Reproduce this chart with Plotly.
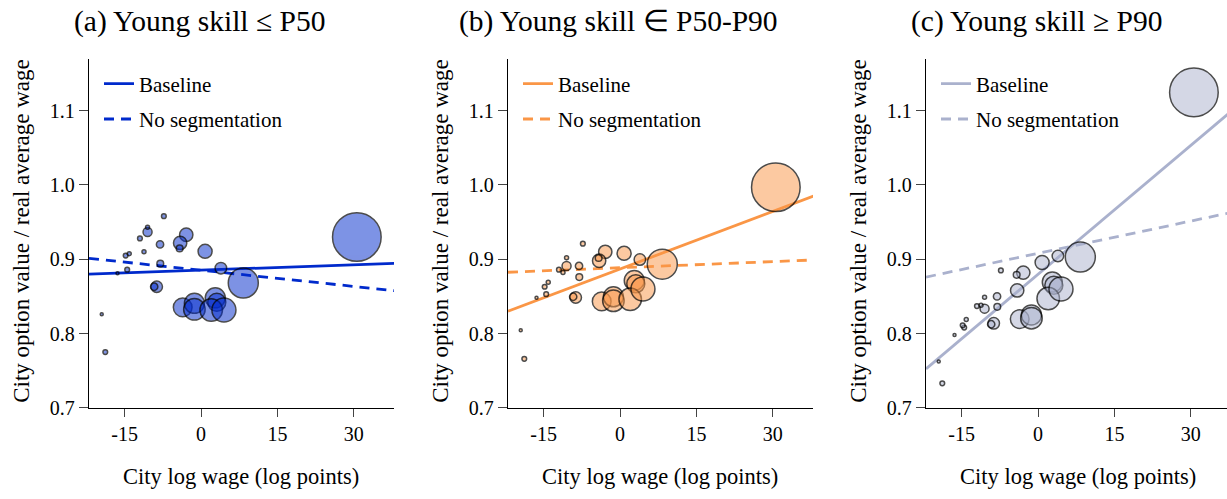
import plotly.graph_objects as go

# ---------------- data ----------------
panel_titles = ["(a) Young skill \u2264 P50", "(b) Young skill \u2208 P50-P90", "(c) Young skill \u2265 P90"]
x_ticks = [-15, 0, 15, 30]
x_tick_text = ["-15", "0", "15", "30"]
y_ticks = [0.7, 0.8, 0.9, 1.0, 1.1]

# city log wage (log points) and marker diameter (city size)
city_x = [-19.5, -18.8, -16.4, -14.5, -14.8, -14.1, -12.0, -10.5, -10.5, -11.2,
          -7.3, -8.05, -8.0, -8.7, -9.2, -2.9, -4.1, -4.2, 0.8, 3.9,
          8.3, -3.6, -1.3, -1.3, 2.8, 3.1, 2.0, 4.5, 30.6]
city_size = [3, 4.7, 3, 4.7, 4.7, 4, 4.7, 9, 4, 4,
             4.7, 7.3, 6.7, 11.5, 7.3, 13.3, 13.3, 6.7, 14, 11.5,
             30, 18.7, 20, 21.5, 20, 18, 22.5, 24, 48.6]

# city option value / real average wage, per panel
y_low = [0.826, 0.775, 0.881, 0.886, 0.905, 0.9075, 0.928, 0.9366, 0.943, 0.910,
         0.958, 0.920, 0.894, 0.863, 0.863, 0.933, 0.922, 0.9145, 0.9106, 0.888,
         0.868, 0.8353, 0.8406, 0.8326, 0.848, 0.842, 0.8317, 0.8317, 0.930]
y_mid = [0.8045, 0.766, 0.848, 0.853, 0.863, 0.869, 0.886, 0.891, 0.902, 0.882,
         0.921, 0.891, 0.876, 0.8485, 0.8495, 0.910, 0.898, 0.9017, 0.908, 0.8996,
         0.8934, 0.8432, 0.8494, 0.8441, 0.8714, 0.867, 0.846, 0.860, 0.997]
y_high = [0.7622, 0.733, 0.798, 0.808, 0.811, 0.819, 0.837, 0.8335, 0.849, 0.838,
          0.885, 0.850, 0.836, 0.8137, 0.8125, 0.882, 0.858, 0.879, 0.8956, 0.9044,
          0.903, 0.8194, 0.8251, 0.8207, 0.8692, 0.865, 0.847, 0.860, 1.1246]

# fitted lines (end points)
line_x = [-22, 38]
baseline_low = [0.880, 0.8945]
baseline_mid = [0.830, 0.985]
baseline_high = [0.7525, 1.0995]
noseg_low = [0.9012, 0.8576]
noseg_mid = [0.8825, 0.899]
noseg_high = [0.876, 0.963]

panel_y = [y_low, y_mid, y_high]
panel_base = [baseline_low, baseline_mid, baseline_high]
panel_noseg = [noseg_low, noseg_mid, noseg_high]
colors = [(0, 42, 204), (250, 150, 70), (170, 177, 205)]

# ---------------- layout geometry (pixels) ----------------
W, H = 1227, 499
ax_left = [89, 508, 926]
ax_right = [394, 813, 1227]
ax_top, ax_bottom = 60, 417
x_ranges = [[-22, 37.9], [-22, 37.9], [-22, 37.1]]
FONT = "Liberation Serif"

fig = go.Figure()
for i in range(3):
    r, g, b = colors[i]
    lc = f"rgb({r},{g},{b})"
    fc = f"rgba({r},{g},{b},0.72)"
    xa = "x" if i == 0 else f"x{i+1}"
    ya = "y" if i == 0 else f"y{i+1}"
    lg = "legend" if i == 0 else f"legend{i+1}"
    fig.add_trace(go.Scatter(x=line_x, y=panel_base[i], mode="lines", name="Baseline",
                             line=dict(color=lc, width=2.8), xaxis=xa, yaxis=ya,
                             legend=lg, legendgroup=f"b{i}"))
    fig.add_trace(go.Scatter(x=line_x, y=panel_noseg[i], mode="lines", name="No segmentation",
                             line=dict(color=lc, width=2.8, dash="10px,7px"), xaxis=xa, yaxis=ya,
                             legend=lg, legendgroup=f"n{i}"))
    fig.add_trace(go.Scatter(x=city_x, y=panel_y[i], mode="markers", showlegend=False,
                             marker=dict(size=city_size, color=fc,
                                         line=dict(color="black", width=1.5)),
                             xaxis=xa, yaxis=ya))

layout = dict(width=W, height=H, margin=dict(l=0, r=0, t=0, b=0),
              plot_bgcolor="white", paper_bgcolor="white",
              font=dict(family=FONT, size=20, color="black"))
ydom = [1 - ax_bottom / H, 1 - ax_top / H]
annotations = []
for i in range(3):
    sx = "" if i == 0 else str(i + 1)
    layout[f"xaxis{sx}"] = dict(domain=[ax_left[i] / W, ax_right[i] / W], range=x_ranges[i],
                                anchor=f"y{sx}", tickvals=x_ticks, ticktext=x_tick_text,
                                ticks="outside", ticklen=8,
                                tickwidth=1.3, showline=True, linecolor="black", linewidth=1.3,
                                showgrid=False, zeroline=False,
                                tickfont=dict(family=FONT, size=20))
    layout[f"yaxis{sx}"] = dict(domain=ydom, range=[0.7, 1.17], anchor=f"x{sx}",
                                tickvals=y_ticks, tickformat=".1f", ticks="outside", ticklen=9,
                                tickwidth=1.3, showline=True, linecolor="black", linewidth=1.3,
                                showgrid=False, zeroline=False,
                                tickfont=dict(family=FONT, size=20))
    lg = "legend" if i == 0 else f"legend{i+1}"
    layout[lg] = dict(x=(ax_left[i] + 10) / W, y=1 - 65 / H, xanchor="left", yanchor="top",
                      bgcolor="rgba(0,0,0,0)", font=dict(family=FONT, size=21),
                      tracegroupgap=5, itemwidth=30)
    off = ax_left[i] - 89
    annotations.append(dict(text=panel_titles[i], x=(199 + off) / W, y=1 - 22 / H,
                            xref="paper", yref="paper", showarrow=False,
                            xanchor="center", yanchor="middle",
                            font=dict(family=FONT, size=29.5)))
    annotations.append(dict(text="City option value / real average wage", x=(22 + off) / W,
                            y=1 - 236 / H, xref="paper", yref="paper", showarrow=False,
                            textangle=-90, xanchor="center", yanchor="middle",
                            font=dict(family=FONT, size=23)))
    annotations.append(dict(text="City log wage (log points)", x=(241 + off) / W, y=1 - 487 / H,
                            xref="paper", yref="paper", showarrow=False,
                            xanchor="center", yanchor="middle",
                            font=dict(family=FONT, size=22.5)))
layout["annotations"] = annotations
fig.update_layout(**layout)

fig.write_html("out.html", post_script="document.body.style.margin='0';",
               config={"displayModeBar": False})
